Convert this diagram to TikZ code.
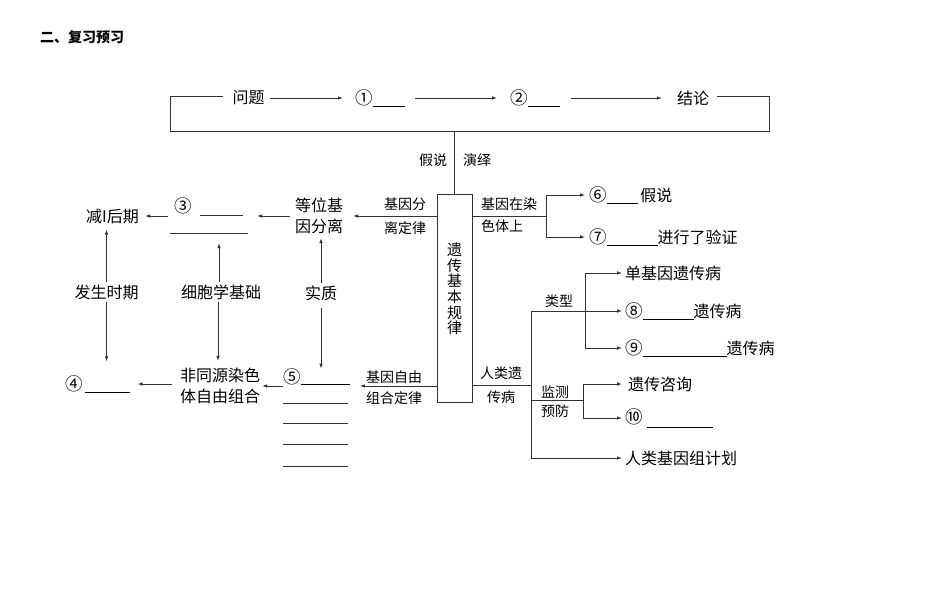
\documentclass[tikz,border=0pt]{standalone}
\usepackage{fontspec}
\setmainfont{Noto Sans CJK SC}
\usetikzlibrary{arrows.meta}
\newcommand{\cnum}[1]{{\fontsize{17.5pt}{17.5pt}\selectfont #1}}
\tikzset{
  main/.style={font=\fontsize{16pt}{21pt}\selectfont, inner sep=2pt, align=center},
  lab/.style={font=\fontsize{14pt}{20pt}\selectfont, inner sep=1pt, align=center},
  ln/.style={line width=0.9pt, draw=black!80},
  arr/.style={ln, -{Latex[length=5pt,width=3.6pt]}},
  blank/.style={line width=0.8pt, draw=black!80},
}
\begin{document}
\begin{tikzpicture}[x=1pt,y=-1pt]
\useasboundingbox (0,0) rectangle (950,594);

% title
\node[font=\bfseries\fontsize{14pt}{14pt}\selectfont, anchor=west, inner sep=0] (title) at (40,37) {二、复习预习};

% top loop
\node[main] (q) at (248.5,98) {问题};
\node[main, inner sep=0, anchor=west] (n1) at (355,98) {\cnum{①}\rule[-2pt]{32pt}{0.8pt}};
\node[main, inner sep=0, anchor=west] (n2) at (510,98) {\cnum{②}\rule[-2pt]{32pt}{0.8pt}};
\node[main] (concl) at (693,98) {结论};
\draw[arr, shorten <=3pt, shorten >=12pt] (q) -- (n1);
\draw[arr, shorten <=10pt, shorten >=13pt] (n1.east) -- (n2.west);
\draw[arr, shorten <=11pt, shorten >=13pt] (n2.east) -- (concl.west);
\coordinate (tl) at (170,96);
\coordinate (tr) at (769,96);
\coordinate (bl) at (170,131);
\coordinate (br) at (769,131);
\draw[ln] ([xshift=-7pt]q.west |- tl) -- (tl) -- (bl) -- (br) -- (tr) -- ([xshift=6pt]concl.east |- tr);

% core box
\node[ln, draw, minimum width=35pt, minimum height=208pt, inner sep=0] (core) at (454.5,298) {};
\node[font=\fontsize{15pt}{15.6pt}\selectfont, align=center, inner sep=0] (coretxt) at (454.5,289) {遗\\传\\基\\本\\规\\律};
\draw[ln] (core.north) -- (core.north |- bl);
\node[lab] (lh) at (433,160) {假说};
\node[lab] (ly) at (477,160) {演绎};

% left upper
\node[main] (eq) at (319,216) {等位基\\因分离};
\draw[arr, shorten >=8pt] (core.west |- eq) -- (eq);
\node[lab] (jf1) at (405,204) {基因分};
\node[lab] (jf2) at (405,228) {离定律};

\node[minimum width=78pt, minimum height=30pt, inner sep=0] (b3) at (209,220) {};
\node[main, inner sep=0] (c3) at (183,206) {\cnum{③}};
\draw[blank] (200,215) -- (243,215);
\draw[blank] (170,233) -- (248,233);
\draw[arr, shorten <=3pt, shorten >=9pt] (eq.west) -- (eq.west -| b3.east);

\node[main] (jian) at (112.5,216) {减I后期};
\draw[arr, shorten <=2pt, shorten >=4pt] (b3.west |- jian) -- (jian.east);

% middle labels
\node[main] (fs) at (106.5,292) {发生时期};
\node[main] (cb) at (221,292) {细胞学基础};
\node[main] (sz) at (321,293) {实质};

% lower left
\node[main, inner sep=0, anchor=west] (b4) at (65,384) {\cnum{④}\,\rule[-2pt]{45pt}{0.8pt}};
\node[main] (fz) at (220,386) {非同源染色\\体自由组合};
\node[main, inner sep=0, anchor=west] (b5) at (283,377) {\cnum{⑤}\rule[-1pt]{49pt}{0.8pt}};
\draw[blank] (283,403) -- (348,403);
\draw[blank] (283,423) -- (348,423);
\draw[blank] (283,444) -- (348,444);
\draw[blank] (283,466) -- (348,466);
\coordinate (lowy) at (0,386);
\draw[arr, shorten >=10pt] (core.west |- lowy) -- (b5.east |- lowy);
\node[lab] (zy1) at (394,377) {基因自由};
\node[lab] (zy2) at (394,398) {组合定律};
\draw[arr] (b5.west |- lowy) -- (fz.east |- lowy);
\draw[arr, shorten <=6pt, shorten >=7pt] (fz.west |- b4) -- (b4.east);

% vertical arrows
\draw[arr, shorten >=4pt] (fs.north) -- (fs.north |- jian.south);
\draw[arr, shorten >=14pt] (fs.south) -- (fs.south |- b4.north);
\draw[arr, shorten >=8pt] ([xshift=-2pt]cb.north) -- ([xshift=-2pt]cb.north |- b3.south);
\draw[arr, shorten >=5pt] ([xshift=-3pt]cb.south) -- ([xshift=-3pt]cb.south |- fz.north);
\draw[arr, shorten >=2pt] (sz.north) -- (sz.north |- eq.south);
\draw[arr, shorten <=5pt] (sz.south) -- (sz.south |- b5.north);

% right upper
\coordinate (brk) at (546,216);
\draw[ln] (core.east |- brk) -- (brk);
\node[lab, anchor=west] (gr1) at (480,204) {基因在染};
\node[lab, anchor=west] (gr2) at (480,226) {色体上};
\node[main, inner sep=0, anchor=west] (n6) at (589,195) {\cnum{⑥}\rule[-2pt]{31pt}{0.8pt}\,假说};
\node[main, inner sep=0, anchor=west] (n7) at (589,237) {\cnum{⑦}\rule[-2pt]{51pt}{0.8pt}进行了验证};
\draw[ln] (n6.west -| brk) -- (n7.west -| brk);
\draw[arr, shorten >=4pt] (n6.west -| brk) -- (n6.west);
\draw[arr, shorten >=4pt] (n7.west -| brk) -- (n7.west);

% right lower
\coordinate (tr1) at (531,385);
\draw[ln] (core.east |- tr1) -- (tr1);
\node[lab] (rl1) at (501,373) {人类遗};
\node[lab] (rl2) at (501,397) {传病};

\node[main, inner sep=0, anchor=west] (sg) at (625,273) {单基因遗传病};
\node[main, inner sep=0, anchor=west] (n8) at (625,311) {\cnum{⑧}\rule[-2pt]{51pt}{0.8pt}遗传病};
\node[main, inner sep=0, anchor=west] (n9) at (625,348) {\cnum{⑨}\rule[-2pt]{84pt}{0.8pt}遗传病};
\node[main, inner sep=0, anchor=west] (zx) at (628,384) {遗传咨询};
\node[main, inner sep=0, anchor=west] (n10) at (625,418) {\cnum{⑩}\hspace{4pt}\rule[-4.5pt]{66pt}{0.8pt}};
\node[main, inner sep=0, anchor=west] (hg) at (625,458) {人类基因组计划};

\coordinate (ttop) at (531,311);
\draw[ln] (ttop) -- (ttop |- hg.west);
\draw[arr, shorten >=3pt] (ttop) -- (n8.west);
\coordinate (br2) at (585,311);
\draw[ln] (sg.west -| br2) -- (n9.west -| br2);
\draw[arr, shorten >=3pt] (sg.west -| br2) -- (sg.west);
\draw[arr, shorten >=3pt] (n9.west -| br2) -- (n9.west);
\node[lab] (lx) at (559,301) {类型};

\coordinate (mon) at (531,400);
\coordinate (br3) at (583,400);
\draw[ln] (mon) -- (br3);
\draw[ln] (zx.west -| br3) -- (n10.west -| br3);
\draw[arr, shorten >=6pt] (zx.west -| br3) -- (zx.west);
\draw[arr, shorten >=3pt] (n10.west -| br3) -- (n10.west);
\node[lab] (jc) at (555,392) {监测};
\node[lab] (yf) at (555,411) {预防};

\draw[arr, shorten >=3pt] (ttop |- hg.west) -- (hg.west);
\end{tikzpicture}
\end{document}
